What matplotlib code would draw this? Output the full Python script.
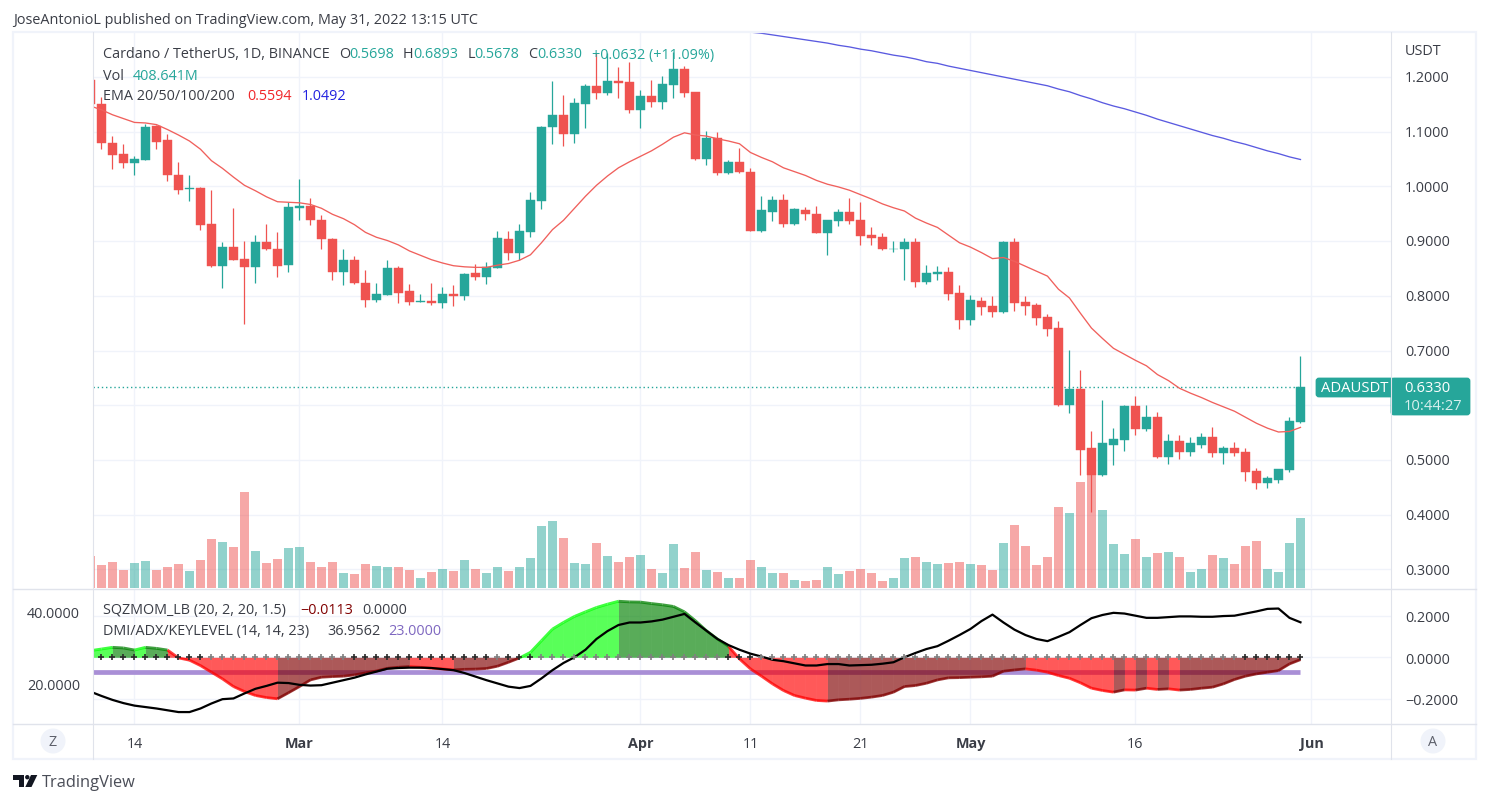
import matplotlib
matplotlib.use('Agg')
import matplotlib.pyplot as plt
import matplotlib.dates as mdates
from matplotlib.patches import Circle, FancyBboxPatch, Polygon, Rectangle
import numpy as np
import pandas as pd

plt.rcParams['font.family'] = ['Open Sans', 'DejaVu Sans']

W, H = 1489, 804

dates = pd.date_range('2022-02-10', '2022-05-31')

# daily candles, Feb 10 to May 31
open_px = [1.194, 1.151, 1.080, 1.060, 1.042, 1.049, 1.111, 1.084, 1.020, 0.996, 0.998, 0.932, 0.855, 0.890, 0.868, 0.852, 0.899, 0.886, 0.857,
           0.961, 0.965, 0.939, 0.903, 0.844, 0.866, 0.823, 0.793, 0.802, 0.850, 0.808, 0.788, 0.790, 0.786, 0.804, 0.799, 0.841, 0.835, 0.850, 0.903, 0.879, 0.916, 0.974, 1.108, 1.131, 1.095, 1.151, 1.184, 1.170, 1.192, 1.190,
           1.140, 1.166, 1.155, 1.186, 1.214, 1.172, 1.051, 1.089, 1.024, 1.045, 1.027, 0.919, 0.954, 0.976, 0.932, 0.956, 0.950, 0.914, 0.936, 0.954, 0.938, 0.912, 0.907, 0.885, 0.885, 0.899, 0.826, 0.839, 0.844, 0.806,
           0.755, 0.791, 0.782, 0.771, 0.899, 0.789, 0.784, 0.762, 0.742, 0.601, 0.630, 0.521, 0.473, 0.528, 0.537, 0.599, 0.557, 0.579, 0.506, 0.535, 0.515, 0.528, 0.542, 0.513, 0.522, 0.515, 0.480, 0.457, 0.464, 0.482, 0.5698]
high_px = [1.200, 1.164, 1.093, 1.077, 1.056, 1.115, 1.113, 1.095, 1.044, 1.020, 0.999, 0.994, 0.899, 0.961, 0.901, 0.912, 0.932, 0.916, 0.971,
           1.013, 0.978, 0.947, 0.905, 0.885, 0.873, 0.848, 0.823, 0.865, 0.855, 0.821, 0.804, 0.823, 0.817, 0.819, 0.841, 0.859, 0.861, 0.918, 0.918, 0.932, 0.989, 1.111, 1.192, 1.168, 1.161, 1.188, 1.243, 1.243, 1.219, 1.228,
           1.177, 1.195, 1.201, 1.246, 1.221, 1.173, 1.102, 1.100, 1.049, 1.071, 1.034, 0.983, 0.982, 0.987, 0.960, 0.963, 0.965, 0.939, 0.958, 0.978, 0.972, 0.925, 0.914, 0.901, 0.905, 0.905, 0.857, 0.854, 0.852, 0.819,
           0.802, 0.798, 0.800, 0.900, 0.906, 0.800, 0.787, 0.767, 0.754, 0.701, 0.665, 0.552, 0.610, 0.559, 0.601, 0.616, 0.601, 0.588, 0.548, 0.546, 0.541, 0.550, 0.561, 0.526, 0.533, 0.522, 0.486, 0.471, 0.484, 0.579, 0.6893]
low_px = [1.140, 1.069, 1.031, 1.033, 1.020, 1.049, 1.068, 1.009, 0.986, 0.974, 0.921, 0.852, 0.815, 0.865, 0.748, 0.824, 0.883, 0.834, 0.843,
          0.939, 0.929, 0.885, 0.828, 0.819, 0.821, 0.779, 0.788, 0.801, 0.786, 0.784, 0.788, 0.783, 0.777, 0.782, 0.793, 0.828, 0.821, 0.850, 0.865, 0.865, 0.908, 0.958, 1.077, 1.073, 1.080, 1.106, 1.159, 1.168, 1.162, 1.135,
          1.106, 1.146, 1.142, 1.161, 1.164, 1.049, 1.040, 1.020, 1.022, 1.024, 0.918, 0.916, 0.936, 0.925, 0.930, 0.938, 0.914, 0.875, 0.928, 0.932, 0.892, 0.892, 0.883, 0.881, 0.828, 0.817, 0.821, 0.828, 0.792, 0.740,
          0.746, 0.765, 0.762, 0.769, 0.773, 0.764, 0.747, 0.727, 0.599, 0.585, 0.473, 0.404, 0.471, 0.490, 0.517, 0.546, 0.552, 0.504, 0.493, 0.502, 0.508, 0.522, 0.506, 0.493, 0.508, 0.462, 0.447, 0.449, 0.457, 0.478, 0.5678]
close_px = [1.150, 1.079, 1.058, 1.042, 1.051, 1.108, 1.082, 1.020, 0.994, 0.998, 0.930, 0.855, 0.890, 0.866, 0.852, 0.899, 0.886, 0.855, 0.963,
            0.965, 0.938, 0.903, 0.844, 0.865, 0.823, 0.793, 0.804, 0.850, 0.806, 0.788, 0.790, 0.786, 0.804, 0.799, 0.839, 0.835, 0.852, 0.905, 0.879, 0.918, 0.976, 1.109, 1.131, 1.095, 1.153, 1.184, 1.170, 1.192, 1.189, 1.140,
            1.166, 1.155, 1.188, 1.214, 1.170, 1.051, 1.089, 1.024, 1.045, 1.027, 0.919, 0.956, 0.976, 0.932, 0.958, 0.950, 0.914, 0.938, 0.954, 0.936, 0.910, 0.905, 0.885, 0.886, 0.899, 0.826, 0.841, 0.844, 0.804, 0.755,
            0.792, 0.780, 0.771, 0.899, 0.787, 0.782, 0.760, 0.740, 0.601, 0.630, 0.519, 0.473, 0.530, 0.539, 0.599, 0.557, 0.579, 0.506, 0.535, 0.515, 0.530, 0.542, 0.513, 0.522, 0.513, 0.478, 0.457, 0.466, 0.484, 0.572, 0.6330]

# volume in millions
volume = [187, 134, 152, 105, 146, 158, 105, 123, 140, 99, 163, 286, 269, 239, 560, 216, 146, 169, 234,
          239, 152, 123, 152, 88, 82, 140, 128, 123, 123, 105, 58, 93, 111, 99, 163, 111, 88, 123, 99, 123, 175, 362, 391, 292, 146, 140, 263, 187, 152, 181,
          193, 111, 88, 257, 117, 210, 105, 93, 58, 58, 163, 123, 88, 88, 47, 41, 47, 123, 82, 99, 111, 88, 41, 58, 175, 181, 152, 140, 146, 152,
          140, 134, 105, 263, 368, 245, 134, 181, 473, 438, 619, 660, 455, 257, 198, 286, 181, 204, 210, 181, 93, 111, 193, 175, 140, 245, 274, 111, 93, 263, 408.641]

ema20 = [1.147, 1.140, 1.131, 1.124, 1.117, 1.116, 1.113, 1.104, 1.094, 1.083, 1.068, 1.047, 1.033, 1.017, 1.002, 0.992, 0.981, 0.972, 0.971,
         0.970, 0.967, 0.960, 0.949, 0.941, 0.930, 0.916, 0.907, 0.901, 0.893, 0.882, 0.874, 0.866, 0.860, 0.855, 0.853, 0.852, 0.852, 0.856, 0.859, 0.865, 0.875, 0.897, 0.921, 0.938, 0.960, 0.982, 1.002, 1.019, 1.034, 1.045,
         1.055, 1.065, 1.077, 1.090, 1.098, 1.094, 1.092, 1.087, 1.083, 1.078, 1.062, 1.053, 1.045, 1.034, 1.027, 1.020, 1.011, 1.004, 0.999, 0.993, 0.985, 0.977, 0.968, 0.961, 0.955, 0.942, 0.933, 0.925, 0.911, 0.897,
         0.889, 0.879, 0.868, 0.870, 0.863, 0.854, 0.845, 0.836, 0.812, 0.796, 0.768, 0.741, 0.722, 0.704, 0.693, 0.682, 0.672, 0.656, 0.645, 0.631, 0.622, 0.614, 0.605, 0.597, 0.589, 0.578, 0.567, 0.558, 0.551, 0.552, 0.5594]

# the EMA 200 is above the pane before Apr 11
ema200_dates = pd.date_range('2022-04-11', '2022-05-31')
ema200 = [1.282, 1.280, 1.277, 1.274, 1.271, 1.268, 1.265, 1.262, 1.258, 1.255, 1.251, 1.248, 1.244, 1.240, 1.237, 1.233, 1.228, 1.225, 1.220, 1.216,
          1.212, 1.208, 1.204, 1.200, 1.196, 1.192, 1.188, 1.184, 1.178, 1.173, 1.166, 1.160, 1.153, 1.147, 1.142, 1.136, 1.130, 1.123, 1.117, 1.111, 1.105, 1.099, 1.093, 1.088, 1.082, 1.077, 1.071, 1.065, 1.060, 1.054, 1.0492]

sqz = [0.032, 0.040, 0.048, 0.045, 0.035, 0.048, 0.043, 0.035, -0.003, -0.014, -0.040, -0.072, -0.104, -0.141, -0.165, -0.184, -0.194, -0.200, -0.171,
       -0.141, -0.109, -0.096, -0.093, -0.091, -0.085, -0.075, -0.066, -0.053, -0.048, -0.045, -0.048, -0.053, -0.056, -0.061, -0.058, -0.057, -0.054, -0.043, -0.024, -0.003, 0.024, 0.080, 0.136, 0.168, 0.197, 0.219, 0.240, 0.256, 0.270, 0.267,
       0.266, 0.259, 0.253, 0.245, 0.219, 0.176, 0.128, 0.088, 0.053, -0.008, -0.056, -0.091, -0.128, -0.160, -0.184, -0.197, -0.208, -0.211, -0.205, -0.202, -0.198, -0.192, -0.184, -0.168, -0.141, -0.136, -0.125, -0.109, -0.099, -0.098,
       -0.096, -0.094, -0.091, -0.067, -0.061, -0.056, -0.062, -0.072, -0.088, -0.101, -0.123, -0.149, -0.160, -0.168, -0.157, -0.158, -0.149, -0.155, -0.152, -0.158, -0.155, -0.149, -0.144, -0.128, -0.107, -0.091, -0.080, -0.072, -0.064, -0.032, -0.0113]

sqz_on = [1] * 11 + [0] * 13 + [1] * 13 + [0] + [1] * 3 + [0] * 17 + [1] * 3 + [0] * 44 + [1] * 6

adx = [17.6, 16.4, 15.3, 14.4, 13.7, 13.3, 12.9, 12.4, 11.9, 11.9, 12.9, 14.3, 15.5, 15.7, 17.1, 18.4, 19.2, 20.1, 20.0,
       19.5, 19.3, 19.4, 20.1, 20.8, 21.5, 22.4, 23.2, 24.0, 24.2, 24.3, 24.3, 24.2, 23.9, 23.6, 22.8, 21.8, 20.8, 19.9, 19.0, 18.6, 19.2, 21.3, 23.6, 25.6, 27.2, 29.3, 32.3, 34.5, 36.2, 36.9,
       36.9, 37.2, 37.7, 38.5, 39.3, 36.9, 34.6, 32.3, 30.6, 29.3, 28.2, 27.4, 26.5, 26.1, 25.5, 24.9, 24.9, 25.3, 25.3, 24.9, 25.0, 25.1, 25.4, 25.8, 27.2, 28.4, 29.5, 30.3, 31.8, 33.4,
       35.1, 37.3, 39.1, 36.9, 34.9, 33.4, 32.3, 31.7, 32.9, 34.2, 36.2, 38.1, 39.0, 39.6, 39.4, 38.8, 38.2, 38.2, 38.4, 38.6, 38.6, 38.5, 38.5, 38.7, 38.8, 39.4, 40.0, 40.7, 40.8, 38.2, 36.9562]
key_level = 23

price_ticks = [1.2, 1.1, 1.0, 0.9, 0.8, 0.7, 0.5, 0.4, 0.3]
price_grid = [1.2, 1.1, 1.0, 0.9, 0.8, 0.7, 0.6, 0.5, 0.4, 0.3]
sqz_ticks = [0.2, 0.0, -0.2]
adx_ticks = [40, 20]
date_ticks = ['2022-02-14', '2022-03-01', '2022-03-14', '2022-04-01', '2022-04-11', '2022-04-21', '2022-05-01', '2022-05-16', '2022-06-01']
date_labels = ['14', 'Mar', '14', 'Apr', '11', '21', 'May', '16', 'Jun']
month_labels = ['Mar', 'Apr', 'May', 'Jun']

TEAL = '#26a69a'
RED = '#ef5350'
TEXT = '#3a3d46'
GRID = '#f0f3fa'
BORDER = '#e0e3eb'
FS = 10.4


def pane(left, top, right, bottom):
    return [left / W, 1 - bottom / H, (right - left) / W, (bottom - top) / H]


fig = plt.figure(figsize=(W / 100, H / 100), dpi=100, facecolor='white')

x = mdates.date2num(dates)
x0 = mdates.date2num(pd.Timestamp('2022-02-14'))
xmin, xmax = x0 - 3.77, x0 + 114.23
tick_x = mdates.date2num(pd.to_datetime(date_ticks))
up = np.array(close_px) >= np.array(open_px)
colors = [TEAL if u else RED for u in up]

# price pane
ax = fig.add_axes(pane(93, 33, 1391, 589))
ax.set_xlim(xmin, xmax)
ax.set_ylim(0.2658, 1.2823)
ax.set_xticks(tick_x)
ax.set_yticks(price_grid)
ax.grid(color=GRID, lw=1)
ax.set_axisbelow(True)
ax.tick_params(length=0, labelbottom=False, labelleft=False)
for s in ax.spines.values():
    s.set_visible(False)

# volume shares the pane, on its own scale
ax_vol = ax.twinx()
ax_vol.set_ylim(0, 3252)
ax_vol.axis('off')
ax_vol.bar(x, volume, width=0.86, color=colors, alpha=0.5, linewidth=0)

# draw candles above the volume bars
ax_c = ax.twinx()
ax_c.set_ylim(ax.get_ylim())
ax_c.axis('off')
ax_c.plot([xmin, x[-1]], [close_px[-1], close_px[-1]], color=TEAL, lw=1.0, ls=(0, (1, 2)), zorder=1)
ax_c.vlines(x, low_px, high_px, color=colors, lw=0.9, zorder=2)
body_low = np.minimum(open_px, close_px)
body_h = np.abs(np.array(close_px) - np.array(open_px))
ax_c.bar(x, body_h, bottom=body_low, width=0.8, color=colors, edgecolor=colors, linewidth=0.3, zorder=3)
ax_c.plot(x, ema20, color='#f0605c', lw=0.95, zorder=4)
ax_c.plot(mdates.date2num(ema200_dates), ema200, color='#5a5ae0', lw=0.95, zorder=4)

for p, label in zip(price_ticks, ['%.4f' % t for t in price_ticks]):
    ax_c.text(1.0108, p - 0.0015, label, transform=ax_c.get_yaxis_transform(), va='center', ha='left', fontsize=FS, color=TEXT)
ax_c.text(1.0108, 1.2489, 'USDT', transform=ax_c.get_yaxis_transform(), va='center', ha='left', fontsize=FS, color=TEXT)

# squeeze momentum and DMI pane
ax2 = fig.add_axes(pane(93, 590, 1391, 725))
ax2.set_xlim(xmin, xmax)
ax2.set_ylim(-0.3214, 0.329)
ax2.set_xticks(tick_x)
ax2.set_yticks(sqz_ticks)
ax2.grid(color=GRID, lw=1)
ax2.set_axisbelow(True)
ax2.set_xticklabels(date_labels, fontsize=FS, color=TEXT)
for lab in ax2.get_xticklabels():
    if lab.get_text() in month_labels:
        lab.set_fontweight('bold')
ax2.tick_params(length=0, axis='x', pad=9)
for s in ax2.spines.values():
    s.set_visible(False)

ax_dmi = ax2.twinx()
ax_dmi.set_ylim(8.57, 46.25)
ax_dmi.yaxis.tick_left()
ax_dmi.set_yticks(adx_ticks)
ax_dmi.set_yticklabels(['%.4f' % t for t in adx_ticks], fontsize=FS, color=TEXT)
ax_dmi.tick_params(length=0, pad=9.4)
for s in ax_dmi.spines.values():
    s.set_visible(False)
ax_dmi.plot([x[0], x[-1]], [key_level, key_level], color='#a98fd6', lw=3.4, solid_capstyle='butt')

# twinx moved the momentum scale to the left, put it back
ax2.yaxis.tick_right()
ax2.set_yticklabels(['0.2000', '0.0000', '\u22120.2000'], fontsize=FS, color=TEXT)
ax2.tick_params(length=0, axis='y', pad=10)

# the indicator goes on a transparent layer above the key level
ax_top = ax2.twinx()
ax_top.set_ylim(ax2.get_ylim())
ax_top.axis('off')
ax2.yaxis.tick_right()
for i in range(1, len(x)):
    rising = sqz[i] > sqz[i - 1]
    if sqz[i] > 0:
        c = '#00ff00' if rising else '#008000'
    else:
        c = '#800000' if rising else '#ff0000'
    ax_top.fill_between(x[i - 1:i + 1], sqz[i - 1:i + 1], 0, color=c, alpha=0.65, lw=0)
    ax_top.plot(x[i - 1:i + 1], sqz[i - 1:i + 1], color=c, lw=2.0, alpha=0.75, solid_capstyle='butt')
ax_top.plot(x, adx, color='black', lw=1.6, transform=ax_dmi.transData, zorder=5)
on = np.array(sqz_on) == 1
ax_top.plot(x[~on], np.zeros((~on).sum()), ls='', marker='+', ms=5, mew=1.2, color='#808080', zorder=6)
ax_top.plot(x[on], np.zeros(on.sum()), ls='', marker='+', ms=5, mew=1.2, color='#2a2a2a', zorder=6)

# page chrome, in pixels
bg = fig.add_axes([0, 0, 1, 1], facecolor='none')
bg.set_xlim(0, W)
bg.set_ylim(H, 0)
bg.axis('off')
bg.add_patch(Rectangle((13, 33), 1463, 727, fill=False, ec=GRID, lw=1.6))
for xp in [93, 1391]:
    bg.plot([xp, xp], [33, 760], color=BORDER, lw=0.8)
for yp in [589.5, 725]:
    bg.plot([13, 1476], [yp, yp], color=BORDER, lw=1.0)
bg.add_patch(Circle((53, 742), 12.5, fc=GRID, ec='none'))
bg.add_patch(Circle((1433, 742), 12.5, fc=GRID, ec='none'))
bg.text(53, 743, 'Z', ha='center', va='center', fontsize=FS, color='#5d606b')
bg.text(1433, 743, 'A', ha='center', va='center', fontsize=FS, color='#5d606b')

# last price tags
bg.add_patch(FancyBboxPatch((1317, 380), 76, 17, boxstyle='round,pad=0,rounding_size=2', fc=TEAL, ec=TEAL, lw=2))
bg.add_patch(FancyBboxPatch((1392, 380), 77, 35, boxstyle='round,pad=0,rounding_size=2', fc=TEAL, ec=TEAL, lw=2))
bg.text(1321, 389, 'ADAUSDT', va='center', fontsize=10.6, color='white', fontweight='medium')
bg.text(1404, 389, '0.6330', va='center', fontsize=10.6, color='white', fontweight='medium')
bg.text(1404, 407, '10:44:27', va='center', fontsize=10.6, color='#d8f0ee')

# legend text rows
rows = [
    (55, [(103, 'Cardano / TetherUS, 1D, BINANCE', TEXT), (339, 'O', TEXT), (349, '0.5698', TEAL), (403, 'H', TEXT), (413, '0.6893', TEAL),
          (468, 'L', TEXT), (474, '0.5678', TEAL), (528, 'C', TEXT), (537, '0.6330', TEAL), (592, '+0.0632 (+11.09%)', TEAL)]),
    (76, [(103, 'Vol', TEXT), (133, '408.641M', TEAL)]),
    (97, [(103, 'EMA 20/50/100/200', TEXT), (247, '0.5594', '#f0262a'), (302, '1.0492', '#2222e0')]),
    (611, [(103, 'SQZMOM_LB (20, 2, 20, 1.5)', TEXT), (300, '\u22120.0113', '#800000'), (362, '0.0000', TEXT)]),
    (632, [(103, 'DMI/ADX/KEYLEVEL (14, 14, 23)', TEXT), (327, '36.9562', TEXT), (388, '23.0000', '#7e67c0')]),
]
for yp, parts in rows:
    for xp, s, c in parts:
        bg.text(xp, yp, s, va='center', ha='left', fontsize=FS, color=c)

bg.text(13, 20, 'JoseAntonioL published on TradingView.com, May 31, 2022 13:15 UTC', va='center', fontsize=FS, color=TEXT)

# TradingView mark
bg.add_patch(Polygon([(13, 776), (24, 776), (24, 788), (19, 788), (19, 780.5), (13, 780.5)], fc='#131722', ec='none'))
bg.add_patch(Circle((27.3, 778.2), 2.2, fc='#131722', ec='none'))
bg.add_patch(Polygon([(31, 776), (37.3, 776), (31.5, 788), (25.3, 788)], fc='#131722', ec='none'))
bg.text(42, 783, 'TradingView', va='center', fontsize=11.8, color='#4a4d57')

fig.savefig('out.png', dpi=100)
